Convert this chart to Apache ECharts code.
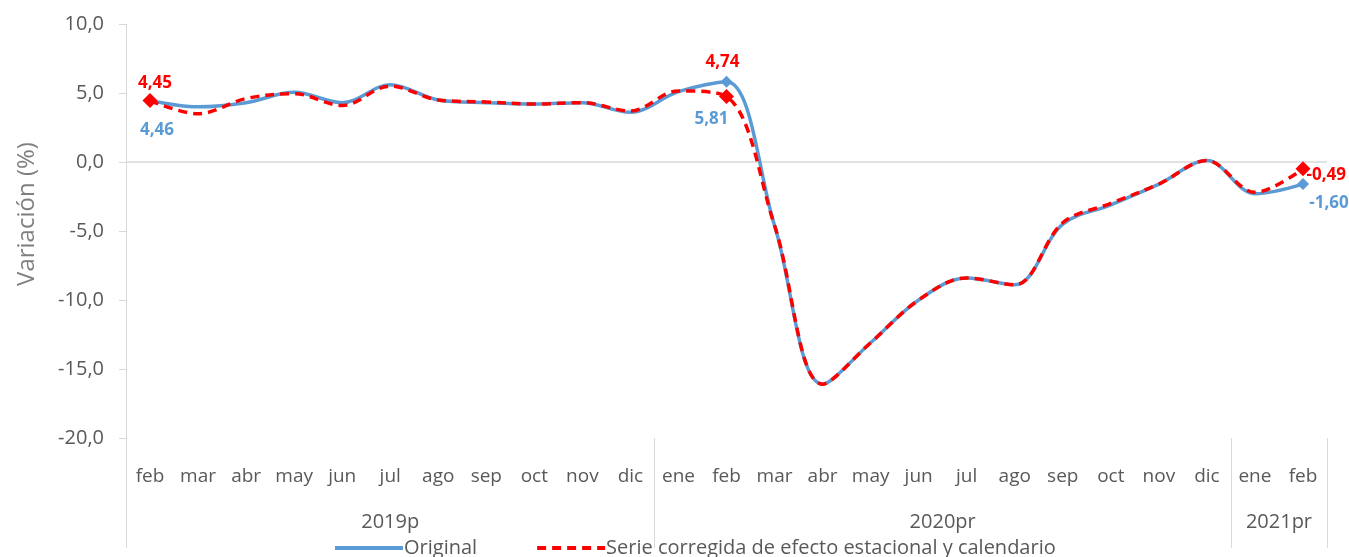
<!DOCTYPE html>
<html>
<head>
<meta charset="utf-8">
<script src="https://cdn.jsdelivr.net/npm/echarts@6/dist/echarts.min.js"></script>
<style>
    html, body { margin: 0; padding: 0; background: #fff; }
    #main { width: 1349px; height: 557px; }
</style>
</head>
<body>
<div id="main"></div>
<script>
(function () {
    /* datos */
    var months = ['feb', 'mar', 'abr', 'may', 'jun', 'jul', 'ago', 'sep', 'oct', 'nov', 'dic',
        'ene', 'feb', 'mar', 'abr', 'may', 'jun', 'jul', 'ago', 'sep', 'oct', 'nov', 'dic',
        'ene', 'feb'];
    var original = [4.46, 4.0, 4.3, 5.05, 4.3, 5.6, 4.5, 4.3, 4.2, 4.3, 3.6,
        5.1, 5.81, -4.6, -16.1, -13.1, -10.0, -8.4, -8.9, -4.5, -3.1, -1.6, 0.1,
        -2.3, -1.60];
    var corregida = [4.45, 3.5, 4.6, 4.95, 4.1, 5.5, 4.5, 4.35, 4.2, 4.3, 3.7,
        5.15, 4.74, -4.6, -16.1, -13.1, -10.0, -8.4, -8.9, -4.4, -3.0, -1.6, 0.1,
        -2.2, -0.49];
    var years = ['2019p', '2020pr', '2021pr'];
    var yearStart = [0, 11, 23, 25];   // límites de cada año (índice de mes)
    var yTicks = [-20, -15, -10, -5, 0, 5, 10];
    var markedIdx = [0, 12, 24];

    var BLUE = '#5b9bd5';
    var RED = '#ff0000';
    var GREY = '#595959';
    var LINE = '#d9d9d9';
    var FONT = '"Open Sans", "Noto Sans", sans-serif';

    function fmt(v) {
        return v.toFixed(1).replace('.', ',');
    }
    function fmt2(v) {
        return v.toFixed(2).replace('.', ',');
    }

    // posiciones de etiquetas de los puntos marcados
    var blueLabels = {
        0: {position: 'bottom', distance: 15, offset: [7, 0]},
        12: {position: 'bottom', distance: 23, offset: [-15, 0]},
        24: {position: 'bottom', distance: 5, offset: [26, 0]}
    };
    var redLabels = {
        0: {position: 'top', distance: 1, offset: [5, 0]},
        12: {position: 'top', distance: 18, offset: [-4, 0]},
        24: {position: 'right', distance: 0, offset: [-4, 6]}
    };

    function buildData(values, labels, color, size) {
        return values.map(function (v, i) {
            if (markedIdx.indexOf(i) < 0) {
                return v;
            }
            var l = labels[i];
            return {
                value: v,
                symbol: 'diamond',
                symbolSize: size,
                label: {
                    show: true,
                    position: l.position,
                    distance: l.distance,
                    offset: l.offset,
                    color: color,
                    fontFamily: FONT,
                    fontWeight: 'bold',
                    fontSize: 17,
                    formatter: function (p) { return fmt2(p.value); }
                }
            };
        });
    }

    var chart = echarts.init(document.getElementById('main'));
    var option = {
        animation: false,
        backgroundColor: '#fff',
        textStyle: {fontFamily: FONT},
        grid: {left: 126, right: 22, top: 24, bottom: 119, containLabel: false},
        legend: {
            left: 328,
            top: 533,
            itemWidth: 68,
            itemHeight: 16,
            itemGap: 58,
            itemStyle: {opacity: 0},
            lineStyle: {width: 4},
            textStyle: {color: GREY, fontSize: 20, fontFamily: FONT, padding: [0, 0, 0, -4]},
            data: ['Original', 'Serie corregida de efecto estacional y calendario']
        },
        graphic: [{
            type: 'text',
            x: 27,
            y: 214,
            rotation: Math.PI / 2,
            style: {
                text: 'Variación (%)',
                fill: '#7f7f7f',
                font: '24px ' + FONT,
                textAlign: 'center',
                textVerticalAlign: 'middle'
            }
        }],
        xAxis: [{
            type: 'category',
            position: 'bottom',
            data: months,
            boundaryGap: true,
            axisLine: {show: false},
            axisTick: {show: false},
            axisLabel: {
                interval: 0,
                color: GREY,
                fontSize: 19,
                fontFamily: FONT,
                margin: 29
            }
        }, {
            type: 'value',
            position: 'bottom',
            min: 0,
            max: 25,
            splitLine: {show: false},
            axisLine: {show: false},
            axisTick: {
                show: true,
                customValues: yearStart,
                length: 110,
                lineStyle: {color: LINE, width: 1}
            },
            axisLabel: {
                show: true,
                customValues: yearStart.slice(0, 3).map(function (s, i) {
                    return (s + yearStart[i + 1]) / 2;
                }),
                color: GREY,
                fontSize: 20,
                fontFamily: FONT,
                margin: 74,
                formatter: function (v) {
                    for (var i = 0; i < years.length; i++) {
                        if (v > yearStart[i] && v < yearStart[i + 1]) {
                            return years[i];
                        }
                    }
                    return '';
                }
            }
        }],
        yAxis: {
            type: 'value',
            min: yTicks[0],
            max: yTicks[yTicks.length - 1],
            interval: 5,
            splitLine: {show: false},
            axisLine: {show: true, lineStyle: {color: LINE, width: 1}},
            axisTick: {show: true, length: 7, lineStyle: {color: LINE}},
            axisLabel: {
                color: GREY,
                fontSize: 20,
                fontFamily: FONT,
                margin: 22,
                formatter: function (v) { return fmt(v); }
            }
        },
        series: [{
            name: 'Original',
            type: 'line',
            xAxisIndex: 0,
            smooth: 0.35,
            symbol: 'none',
            showSymbol: true,
            color: BLUE,
            lineStyle: {color: BLUE, width: 3.5},
            itemStyle: {color: BLUE},
            data: buildData(original, blueLabels, BLUE, 12),
            markLine: {
                silent: true,
                symbol: 'none',
                label: {show: false},
                lineStyle: {color: LINE, width: 1.5, type: 'solid'},
                data: [{yAxis: 0}],
                z: 1
            },
            z: 2
        }, {
            name: 'Serie corregida de efecto estacional y calendario',
            type: 'line',
            xAxisIndex: 0,
            smooth: 0.35,
            symbol: 'none',
            showSymbol: true,
            color: RED,
            lineStyle: {color: RED, width: 3.5, type: [9, 6]},
            itemStyle: {color: RED},
            data: buildData(corregida, redLabels, RED, 15),
            z: 3
        }]
    };
    chart.setOption(option);

    window.addEventListener('resize', function () {
        chart.resize();
    });
})();
</script>
</body>
</html>
